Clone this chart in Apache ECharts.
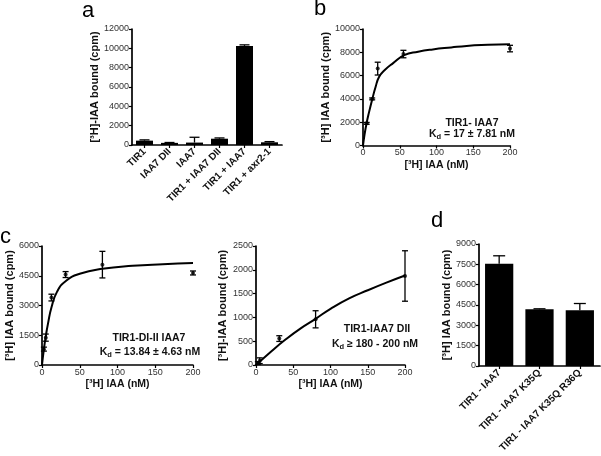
<!DOCTYPE html>
<html><head><meta charset="utf-8">
<script src="https://cdn.jsdelivr.net/npm/echarts@6/dist/echarts.min.js"></script>
<style>html,body{margin:0;padding:0;background:#fff}#c{width:601px;height:456px}</style>
</head><body><div id="c"></div>
<script>
// ---- Panel a ----
const aCategories = ['TIR1', 'IAA7 DII', 'IAA7', 'TIR1 + IAA7 DII', 'TIR1 + IAA7', 'TIR1 + axr2-1'];
const aValues = [450, 220, 250, 650, 10250, 280];
const aErrors = [80, 40, 550, 80, 110, 70];
const aTicks = [0, 2000, 4000, 6000, 8000, 10000, 12000];

// ---- Panel b ----
const bX = [5, 12.5, 20, 55, 200];
const bY = [1900, 4000, 6600, 7850, 8320];
const bErr = [80, 80, 550, 320, 280];
const bCurveX = [0, 2, 5, 8, 12.5, 17, 22, 30, 41, 56, 75, 95, 120, 141, 170, 200];
const bCurveY = [0, 900, 1950, 2800, 3950, 5000, 5900, 6500, 7070, 7750, 8050, 8250, 8420, 8550, 8640, 8700];

// ---- Panel c (left) ----
const c1X = [2.5, 5, 12.5, 31.25, 80, 200];
const c1Y = [800, 1380, 3400, 4560, 5060, 4640];
const c1Err = [100, 180, 170, 150, 670, 100];
const c1CurveX = [0, 2.5, 5, 8, 12.5, 20, 32, 50, 80, 120, 160, 200];
const c1CurveY = [0, 800, 1450, 2100, 2900, 3700, 4250, 4600, 4850, 5000, 5080, 5140];

// ---- Panel c (right) ----
const c2X = [2.5, 5, 31.25, 80, 200];
const c2Y = [40, 90, 555, 960, 1870];
const c2Err = [30, 60, 60, 180, 530];
const c2CurveX = [0, 20, 40, 60, 80, 100, 125, 150, 175, 200];
const c2CurveY = [0, 280, 540, 770, 970, 1180, 1400, 1570, 1730, 1880];

// ---- Panel d ----
const dCategories = ['TIR1 - IAA7', 'TIR1 - IAA7 K35Q', 'TIR1 - IAA7 K35Q R36Q'];
const dValues = [7550, 4180, 4110];
const dErrors = [580, 40, 500];

const FONT = 'Liberation Sans, Arial, sans-serif';
const axLine = {show: true, onZero: false, lineStyle: {color: '#000', width: 1.7}};
const axTick = {show: true, length: 3, inside: false, lineStyle: {color: '#000', width: 1.2}};
const axLabel = {color: '#333', fontSize: 9, fontFamily: FONT, margin: 3, formatter: v => String(v)};
const nameStyle = {color: '#111', fontSize: 11, fontWeight: 'bold', fontFamily: FONT};
const xNameStyle = {color: '#111', fontSize: 10.5, fontWeight: 'bold', fontFamily: FONT};

function zip(xs, ys) { return xs.map((x, i) => [x, ys[i]]); }
function zip3(xs, ys, es) { return xs.map((x, i) => [x, ys[i], es[i]]); }

function errRender(upOnly, capW) {
  return function (params, api) {
    const x = api.value(0), y = api.value(1), e = api.value(2);
    const top = api.coord([x, y + e]);
    const bot = api.coord([x, upOnly ? y : y - e]);
    const st = {stroke: '#000', lineWidth: 1.3};
    const ch = [
      {type: 'line', shape: {x1: top[0], y1: top[1], x2: bot[0], y2: bot[1]}, style: st},
      {type: 'line', shape: {x1: top[0] - capW, y1: top[1], x2: top[0] + capW, y2: top[1]}, style: st}
    ];
    if (!upOnly) ch.push({type: 'line', shape: {x1: bot[0] - capW, y1: bot[1], x2: bot[0] + capW, y2: bot[1]}, style: st});
    return {type: 'group', children: ch};
  };
}

const grids = [
  {left: 132, top: 29, width: 150, height: 116},
  {left: 363, top: 29, width: 147, height: 116.5},
  {left: 42, top: 246, width: 151, height: 119},
  {left: 256, top: 246, width: 149, height: 119},
  {left: 479, top: 244, width: 121, height: 122}
];

function valX(gi) {
  return {type: 'value', gridIndex: gi, min: 0, max: 200, interval: 50, axisLine: axLine, axisTick: axTick,
    axisLabel: axLabel, splitLine: {show: false}, name: '[³H] IAA (nM)', nameLocation: 'middle', nameGap: 14, nameTextStyle: xNameStyle};
}
function valY(gi, max, interval, name, gap) {
  return {type: 'value', gridIndex: gi, min: 0, max: max, interval: interval, axisLine: axLine, axisTick: axTick,
    axisLabel: axLabel, splitLine: {show: false}, name: name, nameLocation: 'middle', nameRotate: 90, nameGap: gap, nameTextStyle: nameStyle};
}
function catX(gi, cats, fs) {
  return {type: 'category', gridIndex: gi, data: cats, axisLine: axLine,
    axisTick: {show: true, alignWithLabel: true, length: 3, lineStyle: {color: '#000', width: 1.2}},
    axisLabel: {color: '#111', fontSize: fs, fontWeight: 'bold', fontFamily: FONT, rotate: 45, interval: 0, margin: 5}};
}

const xAxes = [
  catX(0, aCategories, 10),
  valX(1),
  valX(2),
  valX(3),
  catX(4, dCategories, 10)
];
const yAxes = [
  valY(0, 12000, 2000, '[³H]-IAA bound (cpm)', 30),
  valY(1, 10000, 2000, '[³H] IAA bound (cpm)', 30),
  valY(2, 6000, 1500, '[³H] IAA bound (cpm)', 27),
  valY(3, 2500, 500, '[³H]-IAA bound (cpm)', 28),
  valY(4, 9000, 1500, '[³H] IAA bound (cpm)', 26)
];

const series = [
  {type: 'bar', xAxisIndex: 0, yAxisIndex: 0, data: aValues, barCategoryGap: '32%', itemStyle: {color: '#000'}, silent: true},
  {type: 'custom', xAxisIndex: 0, yAxisIndex: 0, data: aCategories.map((c, i) => [i, aValues[i], aErrors[i]]), renderItem: errRender(true, 5), z: 5},
  {type: 'bar', xAxisIndex: 4, yAxisIndex: 4, data: dValues, barCategoryGap: '30%', itemStyle: {color: '#000'}, silent: true},
  {type: 'custom', xAxisIndex: 4, yAxisIndex: 4, data: dCategories.map((c, i) => [i, dValues[i], dErrors[i]]), renderItem: errRender(true, 6), z: 5}
];
[[1, bX, bY, bErr, bCurveX, bCurveY], [2, c1X, c1Y, c1Err, c1CurveX, c1CurveY], [3, c2X, c2Y, c2Err, c2CurveX, c2CurveY]].forEach(p => {
  const gi = p[0];
  series.push({type: 'line', xAxisIndex: gi, yAxisIndex: gi, data: zip(p[4], p[5]), smooth: true, showSymbol: false,
    lineStyle: {color: '#000', width: 2}, silent: true});
  series.push({type: 'scatter', xAxisIndex: gi, yAxisIndex: gi, data: zip(p[1], p[2]), symbolSize: 4, itemStyle: {color: '#000'}});
  series.push({type: 'custom', xAxisIndex: gi, yAxisIndex: gi, data: zip3(p[1], p[2], p[3]), renderItem: errRender(false, 3), z: 5});
});

const kdRich = {
  k: {fontSize: 10.5, fontWeight: 'bold', fontFamily: FONT, color: '#111', lineHeight: 14},
  s: {fontSize: 7.5, fontWeight: 'bold', fontFamily: FONT, color: '#111', verticalAlign: 'bottom', lineHeight: 14, padding: [6, 0, 0, 0]}
};
function label(x, y, txt, size) {
  return {type: 'text', left: x, top: y, style: {text: txt, fontSize: size, fontFamily: FONT, fill: '#000'}};
}
function centered(cx, cy, txt, rich) {
  return {type: 'text', x: cx, y: cy, style: {text: txt, rich: rich, fontSize: 10.5, fontWeight: 'bold', fontFamily: FONT,
    fill: '#111', align: 'center', verticalAlign: 'middle'}};
}

const graphic = [
  label(82, 0, 'a', 22), label(314, -2, 'b', 22), label(0, 226, 'c', 22), label(431, 210, 'd', 22),
  centered(472, 123, 'TIR1- IAA7'),
  centered(472, 134, '{k|K}{s|d}{k| = 17 ± 7.81 nM}', kdRich),
  centered(149, 338, 'TIR1-DI-II IAA7'),
  centered(150, 352, '{k|K}{s|d}{k| = 13.84 ± 4.63 nM}', kdRich),
  centered(377, 329, 'TIR1-IAA7 DII'),
  centered(375, 344, '{k|K}{s|d}{k| ≥ 180 - 200 nM}', kdRich)
];

const chart = echarts.init(document.getElementById('c'), null, {renderer: 'canvas'});
chart.setOption({
  animation: false,
  backgroundColor: '#fff',
  textStyle: {fontFamily: FONT},
  grid: grids,
  xAxis: xAxes,
  yAxis: yAxes,
  series: series,
  graphic: graphic
});
</script></body></html>
